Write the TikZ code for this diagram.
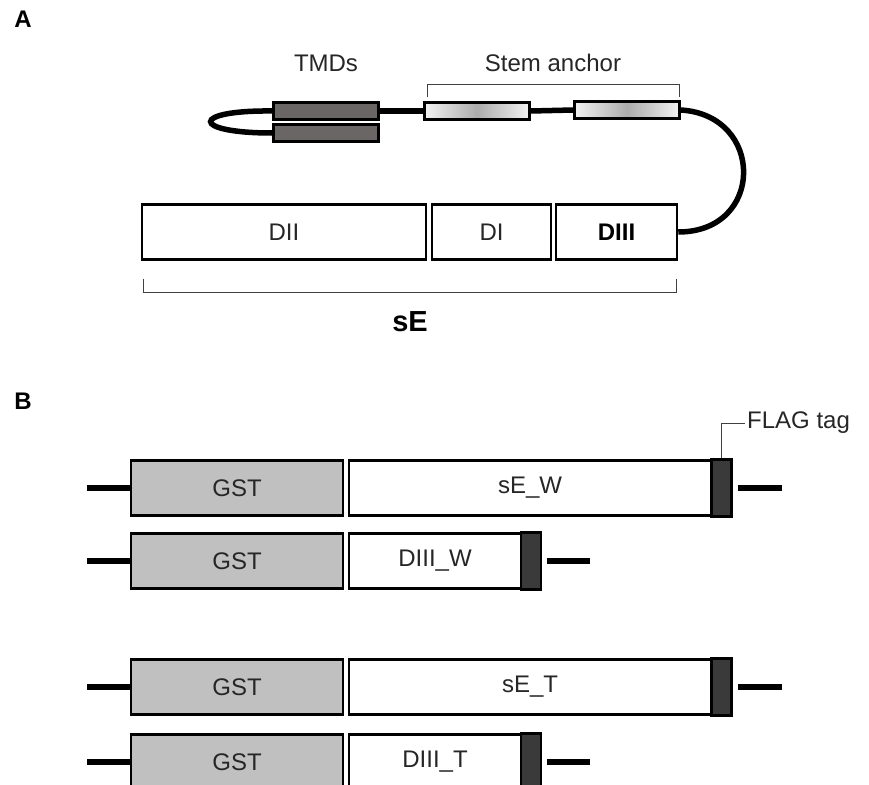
\documentclass[tikz,border=0pt]{standalone}
\usepackage{fontspec}
\setmainfont{Liberation Sans}
\definecolor{tmdgray}{HTML}{6B6666}
\definecolor{gstgray}{HTML}{C0C0C0}
\definecolor{flaggray}{HTML}{3A3A3A}
\newcommand{\lblfont}{\fontsize{24}{28}\selectfont}
\begin{document}
\begin{tikzpicture}[
    x=1pt, y=-1pt,
    lbl/.style={font=\lblfont, inner sep=2pt, text=black!85},
    dom/.style={rectangle, draw, line width=2.5pt, fill=white, minimum height=55pt, inner sep=0pt, font=\lblfont, text=black!85},
    gst/.style={dom, fill=gstgray, minimum width=212pt},
    tmd/.style={rectangle, draw, line width=2.5pt, fill=tmdgray, minimum width=105pt, minimum height=17pt, inner sep=0pt},
    stem/.style={rectangle, draw, line width=2.5pt, left color=gray!10, right color=gray!10, middle color=gray!65, minimum width=105pt, minimum height=17pt, inner sep=0pt},
    flag/.style={rectangle, draw, line width=2.5pt, fill=flaggray, minimum width=20pt, minimum height=57pt, inner sep=0pt},
    link/.style={line width=5.5pt},
    stub/.style={line width=6pt},
    brk/.style={line width=1pt, black!75},
]
\useasboundingbox (0,0) rectangle (869,784);

% Panel labels
\node[font=\fontsize{24}{28}\selectfont\bfseries] (pa) at (23,19) {A};
\node[font=\fontsize{24}{28}\selectfont\bfseries] (pb) at (23,401) {B};

% Panel A - membrane part
\node[lbl] (tmdlbl) at (326,63) {TMDs};
\node[lbl] (stemlbl) at (553,63) {Stem anchor};
\draw[brk] (427,97) -- (427,84) -- (679,84) -- (679,97);

\node[tmd] (tmdu) at (326,111) {};
\node[tmd] (tmdl) at (326,133) {};
\node[stem] (stemone) at (477,111) {};
\node[stem] (stemtwo) at (627,110) {};

\draw[link] (tmdu.west) .. controls (190,110) and (190,133) .. (tmdl.west);
\draw[link] (tmdu.east) -- (stemone.west);
\draw[link] (stemone.east) -- (stemtwo.west);

% Panel A - ectodomain
\node[dom, minimum width=284pt] (dii) at (284,232) {DII};
\node[dom, minimum width=119pt] (di) at (491.5,232) {DI};
\node[dom, minimum width=121pt, font=\lblfont\bfseries, text=black] (diii) at (616.5,232) {DIII};

\draw[link] (stemtwo.east) .. controls (765,115) and (765,232) .. (diii.east);

\draw[brk] (143,279) -- (143,292) -- (676,292) -- (676,279);
\node[font=\fontsize{29}{33}\selectfont\bfseries] (se) at (410,322) {sE};

% Panel B - row 1
\node[gst] (gstone) at (237,488) {GST};
\node[dom, minimum width=362pt] (sew) at (530,488) {sE\_W};
\node[flag] (flagone) at (721.5,488) {};
\coordinate (lone) at (87,488);
\coordinate (rone) at (738,488);
\coordinate (rone') at (782,488);
\draw[stub] (lone) -- (gstone.west);
\draw[stub] (rone) -- (rone');
\node[lbl, anchor=west] (flagtag) at (745,423) {FLAG tag};
\draw[brk] (flagone.north) |- (flagtag.west);

% Panel B - row 2
\node[gst] (gsttwo) at (237,561) {GST};
\node[dom, minimum width=172pt] (diiiw) at (435,561) {DIII\_W};
\node[flag] (flagtwo) at (531,561) {};
\coordinate (ltwo) at (87,561);
\coordinate (rtwo) at (547,561);
\coordinate (rtwo') at (590,561);
\draw[stub] (ltwo) -- (gsttwo.west);
\draw[stub] (rtwo) -- (rtwo');

% Panel B - row 3
\node[gst] (gstthree) at (237,687) {GST};
\node[dom, minimum width=362pt] (set) at (530,687) {sE\_T};
\node[flag] (flagthree) at (721.5,687) {};
\coordinate (lthree) at (87,687);
\coordinate (rthree) at (738,687);
\coordinate (rthree') at (782,687);
\draw[stub] (lthree) -- (gstthree.west);
\draw[stub] (rthree) -- (rthree');

% Panel B - row 4
\node[gst] (gstfour) at (237,762) {GST};
\node[dom, minimum width=172pt] (diiit) at (435,762) {DIII\_T};
\node[flag] (flagfour) at (531,762) {};
\coordinate (lfour) at (87,762);
\coordinate (rfour) at (547,762);
\coordinate (rfour') at (590,762);
\draw[stub] (lfour) -- (gstfour.west);
\draw[stub] (rfour) -- (rfour');

\end{tikzpicture}
\end{document}
